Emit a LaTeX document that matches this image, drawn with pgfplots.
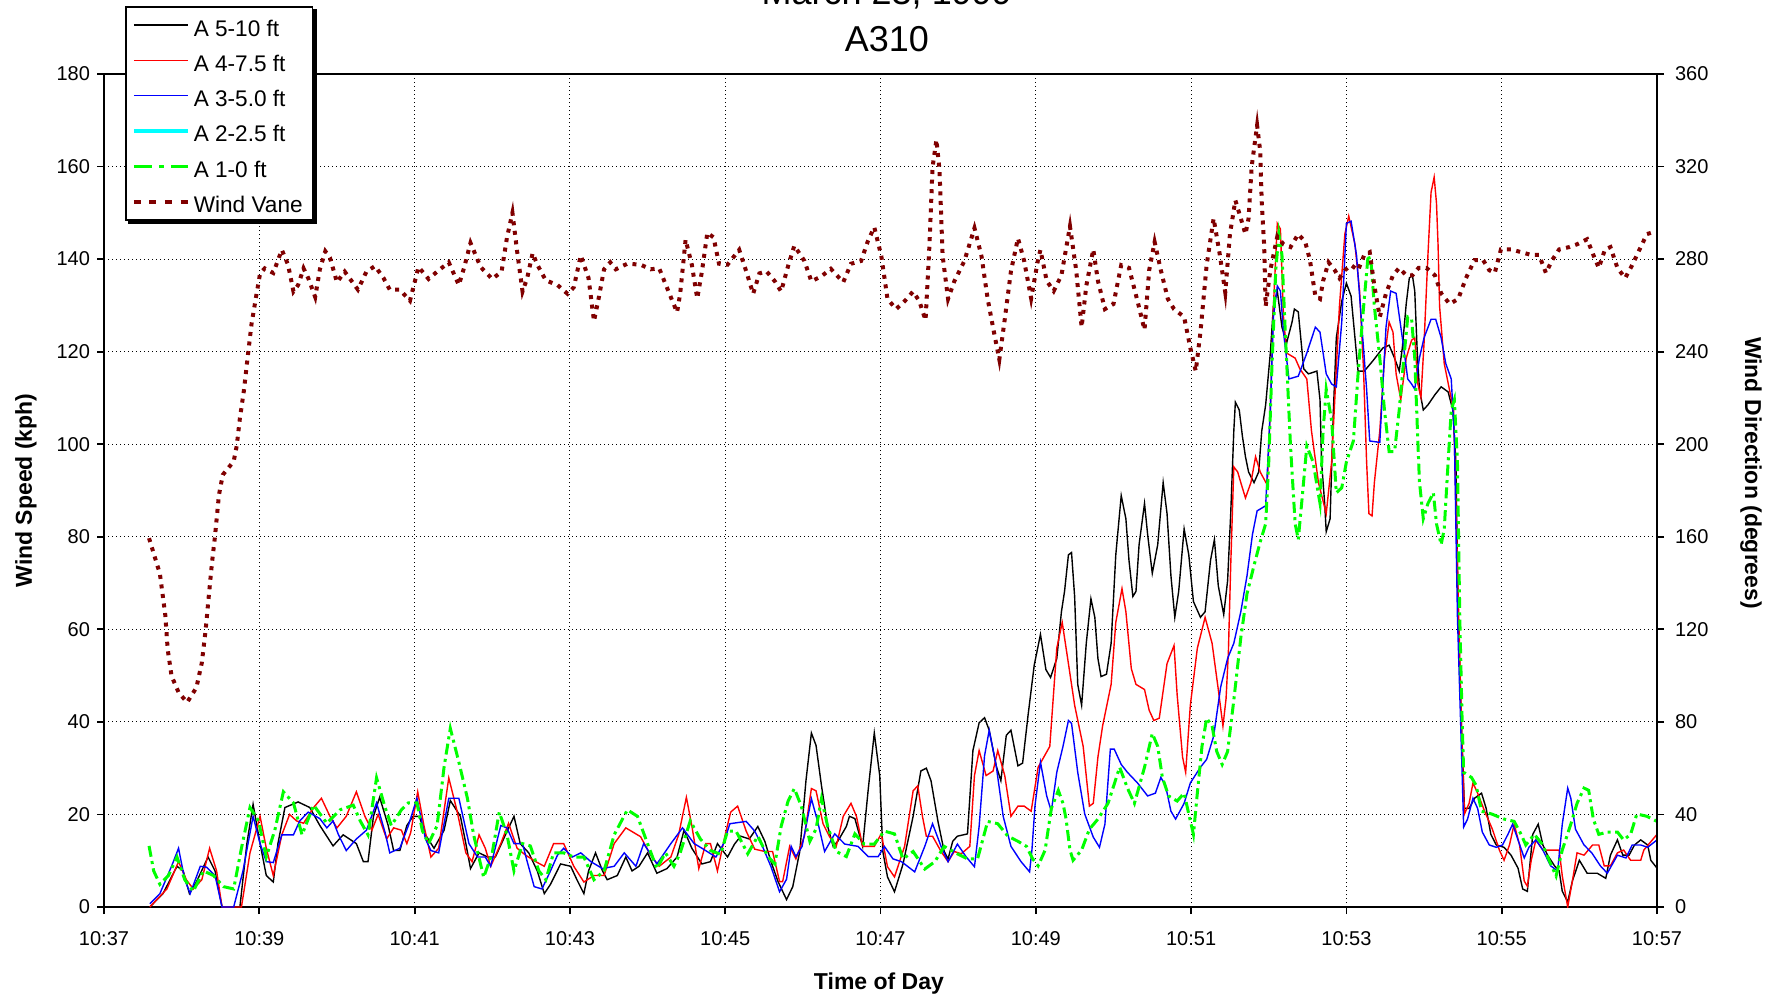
\documentclass[border=0pt]{standalone}
\usepackage{fontspec}
\setmainfont{Liberation Sans}
\usepackage{pgfplots}
\pgfplotsset{compat=1.18}
\definecolor{vane}{HTML}{800000}
\definecolor{lgreen}{HTML}{00FF00}
\definecolor{lcyan}{HTML}{00FFFF}
\begin{document}
\begin{tikzpicture}
\pgfplotsset{
  common/.style={
    scale only axis, width=776.5pt, height=416.5pt, at={(0pt,0pt)}, anchor=south west,
    xmin=0, xmax=20,
    tick align=outside, major tick length=3.5pt,
    tick style={black, line width=0.9pt},
    axis line style={line width=1.3pt},
    /pgf/number format/assume math mode=true,
    ticklabel style={font=\fontsize{10}{12}\selectfont},
  }
}
\begin{axis}[common,
  ymin=0, ymax=180, ytick={0,20,...,180}, ytick pos=left,
  xtick={0,2,4,6,8,10,12,14,16,18,20},
  xticklabels={10:37,10:39,10:41,10:43,10:45,10:47,10:49,10:51,10:53,10:55,10:57},
  xtick pos=bottom,
  xticklabel style={yshift=-5pt},
  grid=major, grid style={black, line width=0.5pt, dash pattern=on 0.6pt off 1.4pt},
  xlabel={Time of Day}, ylabel={Wind Speed (kph)},
  every axis x label/.style={at={(axis description cs:0.499,-0.099)}, anchor=base, font=\bfseries\fontsize{11.5}{14}\selectfont},
  every axis y label/.style={at={(axis description cs:-0.0502,0.5)}, rotate=90, anchor=center, font=\bfseries\fontsize{11.5}{14}\selectfont},
]
% A 5-10 ft
\addplot[black, line width=0.7pt] table {
t v
0.59 0
0.76 2.9
0.94 8.8
1.02 7.8
1.10 2.9
1.19 5.4
1.34 10.8
1.43 7.8
1.52 0
1.75 0
1.84 13.7
1.92 22.2
2.01 13.7
2.09 6.8
2.18 5.4
2.24 13.7
2.33 21.5
2.50 22.7
2.65 21.5
2.78 17.6
2.95 13.2
3.08 15.6
3.25 13.7
3.34 9.8
3.40 9.8
3.47 19.6
3.55 23.7
3.66 17.6
3.73 12.2
3.81 12.2
3.90 17.6
3.98 19.6
4.06 19.6
4.14 15.6
4.25 12.7
4.38 16.6
4.46 23
4.59 19.6
4.66 13.7
4.72 8.3
4.83 11.7
4.94 10.8
5.04 10.8
5.17 15.6
5.28 19.6
5.36 13.7
5.47 11.7
5.58 7.8
5.67 2.9
5.75 4.9
5.88 9.3
6.01 8.8
6.09 5.9
6.18 2.9
6.24 7.8
6.33 11.7
6.42 7.8
6.48 5.9
6.61 6.8
6.72 10.8
6.80 7.8
6.89 8.8
7.00 11.7
7.12 7.3
7.25 8.3
7.38 10.8
7.47 16.6
7.57 12.7
7.70 9.3
7.81 9.8
7.90 13.7
8.03 10.8
8.12 13.6
8.20 15.3
8.31 14.7
8.42 17.4
8.51 14.2
8.59 9.8
8.68 5.5
8.79 1.6
8.87 4.4
8.96 12
9.04 27.3
9.11 37.6
9.17 34.9
9.24 26.2
9.32 17.4
9.39 13.1
9.45 14.2
9.56 17.4
9.60 19.6
9.67 19.1
9.77 13.1
9.84 25.1
9.92 37.6
9.99 28.4
10.03 12
10.09 6.5
10.18 3.3
10.29 9.3
10.42 19.6
10.52 29.4
10.59 30
10.65 27.3
10.74 18.5
10.82 12
10.87 10.4
10.93 14.2
10.99 15.3
11.12 15.8
11.19 33.8
11.27 39.8
11.34 40.9
11.40 38.2
11.49 30.5
11.55 27.3
11.62 37.1
11.68 38.2
11.77 30.5
11.83 31.1
11.90 41.4
11.98 52.3
12.06 58.9
12.13 51.3
12.19 49.6
12.27 53.7
12.33 63.8
12.37 68.2
12.42 76.1
12.46 76.6
12.50 67.1
12.54 48.1
12.59 43.6
12.65 57
12.71 66.6
12.76 62.6
12.80 53.7
12.84 49.8
12.91 50.3
12.97 57
13.03 76.1
13.10 88.9
13.16 83.9
13.20 74.9
13.25 67.1
13.29 68.2
13.33 78.3
13.40 87.2
13.44 80.5
13.50 72.1
13.57 78.3
13.64 91.7
13.69 85
13.74 71.6
13.79 62.6
13.84 68.2
13.91 81.7
13.97 76.1
14.03 66
14.12 62.6
14.18 63.8
14.25 74.9
14.30 79.4
14.35 69.4
14.42 63.2
14.47 70.5
14.51 85
14.55 102.9
14.57 109.1
14.62 107.4
14.66 101.8
14.70 97.3
14.74 94
14.81 91.7
14.87 94
14.91 102.9
14.96 108.5
15.02 119.7
15.06 129.8
15.11 133.1
15.17 125.3
15.23 121.9
15.30 126.4
15.33 129.2
15.38 128.6
15.45 116.3
15.51 115.2
15.62 115.8
15.66 109.6
15.68 96.2
15.72 87.2
15.74 81.1
15.79 83.9
15.83 106.3
15.87 123
15.94 130.9
16.00 134.8
16.06 132
16.15 115.8
16.23 115.8
16.34 118
16.47 120.8
16.55 121.4
16.62 118.6
16.68 115.8
16.72 120.8
16.77 130.3
16.81 135.9
16.85 136.5
16.88 133.1
16.91 120.8
16.94 111.9
16.99 107.4
17.05 108.5
17.14 110.7
17.22 112.4
17.31 111.3
17.37 107.4
17.41 96.2
17.44 62.6
17.48 40.3
17.52 21.3
17.58 21.3
17.65 23.5
17.74 24.6
17.80 21.3
17.86 15.7
17.93 13.4
18.03 12.9
18.12 11.2
18.21 8.4
18.27 3.9
18.33 3.4
18.40 15.7
18.47 17.9
18.53 13.4
18.59 11.2
18.68 8.9
18.74 7.8
18.78 3.4
18.85 1.1
18.91 5.6
19.00 10.1
19.10 7.3
19.23 7.3
19.34 6.2
19.40 11.2
19.49 14.5
19.56 11.2
19.64 11.2
19.71 13.4
19.79 14.5
19.88 13.4
19.92 10.1
20.00 8.4
};
% A 4-7.5 ft
\addplot[red, line width=0.7pt] table {
t v
0.59 0
0.81 3.9
0.96 9.8
1.06 5.9
1.15 3.9
1.26 5.9
1.36 12.7
1.45 7.8
1.52 0
1.77 0
1.88 11.7
2.01 19.6
2.09 12.7
2.18 6.8
2.29 15.6
2.39 20
2.48 18.6
2.57 18.1
2.70 21.5
2.80 23.5
2.91 19.6
3.00 17.1
3.12 19.6
3.25 24.9
3.36 19.6
3.45 16.6
3.53 20
3.64 14.7
3.73 17.1
3.83 16.6
3.90 13.7
3.95 16.1
4.04 24.9
4.12 17.6
4.21 10.8
4.31 12.7
4.44 27.9
4.55 20.5
4.66 11.7
4.74 9.8
4.83 15.6
4.91 12.7
4.98 8.8
5.11 13.7
5.21 18.1
5.32 12.7
5.43 11.2
5.56 9.8
5.67 8.8
5.79 13.7
5.92 13.7
6.05 8.8
6.18 5.4
6.31 6.8
6.44 6.8
6.57 13.7
6.72 17.1
6.91 15.2
7.04 11.2
7.15 8.8
7.30 10.8
7.40 15.6
7.50 23.7
7.57 17.6
7.66 8.3
7.75 13.7
7.81 13.7
7.90 7.8
8.00 15.6
8.07 20.5
8.16 21.8
8.27 16.4
8.38 12.5
8.51 12
8.61 12
8.70 5.5
8.74 5.5
8.83 13.1
8.91 10.4
9.02 15.3
9.11 25.6
9.17 25.1
9.26 18
9.34 15.3
9.43 13.1
9.52 19.6
9.62 22.4
9.69 19.6
9.77 13.1
9.92 13.1
10.01 15.8
10.09 8.7
10.18 6.5
10.31 13.1
10.42 25.1
10.48 26.2
10.54 19.6
10.59 15.3
10.67 15.3
10.78 12
10.87 9.8
10.95 12
11.04 11.5
11.15 13.1
11.21 28.4
11.27 33.8
11.36 28.4
11.45 29.4
11.51 33.8
11.60 28.4
11.68 19.6
11.77 21.8
11.85 21.8
11.94 20.7
12.03 30.2
12.18 34.7
12.27 55.9
12.34 61.5
12.42 52.6
12.50 43.6
12.61 34.7
12.69 21.8
12.74 22.4
12.80 32.4
12.86 39.1
12.97 48.1
13.03 61.5
13.11 68.8
13.16 63.8
13.23 51.5
13.29 48.1
13.40 47
13.46 42.5
13.52 40.3
13.59 40.8
13.69 52.6
13.78 56.5
13.82 45.9
13.89 32.4
13.93 29.1
13.99 43.6
14.08 55.9
14.18 62.6
14.27 57
14.35 47
14.41 39.1
14.45 45
14.48 55
14.51 73.8
14.55 95.1
14.60 94
14.64 91.7
14.70 88.4
14.77 91.7
14.83 97.3
14.89 94
14.98 91.2
15.02 107.4
15.06 129.8
15.11 147.7
15.15 146.5
15.19 127.5
15.23 119.7
15.34 118.6
15.40 116.3
15.49 114.1
15.55 102.9
15.64 91.7
15.74 85
15.81 96.2
15.85 109.6
15.91 129.8
15.98 145.4
16.03 149.3
16.11 143.2
16.17 133.1
16.22 116.3
16.26 96.2
16.29 85
16.33 84.5
16.36 91.7
16.43 102.9
16.49 118.6
16.55 126.4
16.60 124.2
16.64 115.2
16.70 109.6
16.77 118.6
16.84 122.5
16.88 123
16.92 113
16.96 110.2
17.00 121.9
17.05 140.9
17.09 154.4
17.13 157.7
17.16 152.1
17.18 143.2
17.20 129.8
17.26 117.4
17.34 110.7
17.38 107.4
17.43 73.8
17.48 40.3
17.52 20.1
17.58 22.4
17.63 26.8
17.69 24.6
17.78 20.7
17.88 16.8
17.97 12.3
18.03 10.1
18.10 13.4
18.16 17.9
18.23 13.4
18.29 5.6
18.33 4.5
18.38 10.1
18.44 14.5
18.53 12.3
18.63 12.3
18.74 12.3
18.78 6.7
18.85 0
18.91 5.6
18.97 11.7
19.06 11.2
19.17 13.4
19.25 13.4
19.32 8.9
19.40 8.9
19.49 11.7
19.57 12.3
19.66 10.1
19.79 10.1
19.83 12.3
20.00 15.7
};
% A 3-5.0 ft
\addplot[blue, line width=0.7pt] table {
t v
0.59 0.7
0.72 2.9
0.87 8.8
0.96 12.7
1.04 5.9
1.11 2.9
1.24 8.8
1.32 8.6
1.43 6.8
1.52 0
1.67 0
1.79 7.8
1.92 19.6
2.01 13.7
2.09 9.8
2.18 9.6
2.29 15.6
2.44 15.6
2.52 18.6
2.63 20.5
2.78 19.1
2.87 17.1
2.95 18.6
3.02 15.6
3.12 12.2
3.25 14.7
3.38 16.6
3.51 22.5
3.62 16.1
3.68 11.7
3.81 12.7
3.92 17.6
4.03 23.5
4.14 14.7
4.21 12.2
4.31 11.7
4.44 23.5
4.57 23.5
4.70 13.7
4.81 10.8
4.91 10.8
4.98 8.8
5.11 17.6
5.19 17.1
5.28 13.7
5.39 13.7
5.45 9.8
5.54 4.4
5.64 3.9
5.75 7.8
5.84 11.2
5.92 12.7
6.03 10.8
6.14 11.7
6.27 9.8
6.42 8.3
6.57 8.8
6.70 11.7
6.85 8.8
6.95 13.7
7.12 9.3
7.30 13.7
7.45 17.1
7.60 13.7
7.70 12.7
7.88 10.8
7.98 13.7
8.06 18
8.27 18.5
8.38 16.4
8.48 13.1
8.59 8.7
8.70 3.3
8.79 6
8.85 13.1
8.91 10.9
8.99 13.1
9.11 23.4
9.19 18.5
9.28 12
9.41 15.8
9.54 13.6
9.71 13.1
9.84 10.9
9.97 10.9
10.05 13.1
10.16 10.4
10.27 9.8
10.44 7.6
10.57 13.1
10.67 18
10.78 13.1
10.87 9.8
10.99 13.6
11.10 10.9
11.21 8.7
11.27 17.4
11.34 32.7
11.40 38.2
11.49 30.5
11.58 19.6
11.68 13.1
11.81 9.8
11.92 7.6
11.95 12.3
11.99 22
12.06 31.3
12.14 24
12.20 20.7
12.27 29.1
12.35 34.7
12.42 40.3
12.46 39.7
12.54 29.1
12.63 20.1
12.74 15.1
12.82 12.9
12.89 17.9
12.96 34.1
13.01 34.1
13.10 30.8
13.18 29.1
13.31 26.8
13.44 24
13.54 24.6
13.61 28
13.67 26.3
13.74 20.7
13.80 19
13.91 22.4
13.99 26.8
14.12 30.2
14.20 31.9
14.29 36.9
14.38 47.5
14.47 53.7
14.55 57
14.64 63.8
14.72 71.6
14.79 80.5
14.85 85.6
14.96 86.7
15.02 107.4
15.06 127.5
15.11 134.2
15.15 133.1
15.19 124.2
15.26 114.1
15.38 114.7
15.49 119.7
15.60 125.3
15.66 124.2
15.74 115.2
15.81 113
15.87 112.4
15.94 126.4
16.00 147.7
16.06 148.2
16.13 140.9
16.19 127.5
16.26 111.9
16.30 100.7
16.43 100.4
16.47 113
16.51 125.3
16.57 133.1
16.64 132.6
16.72 123
16.79 114.1
16.84 113
16.88 111.9
16.94 118.6
17.00 123
17.09 127
17.15 127
17.22 123
17.28 117.4
17.35 114.1
17.39 101.8
17.43 62.6
17.48 34.7
17.51 17.3
17.56 19
17.63 23.5
17.69 21.3
17.75 16.2
17.84 13.4
17.93 12.9
18.01 13.4
18.08 15.7
18.14 17.9
18.21 14.5
18.29 10.6
18.35 12.9
18.44 14.5
18.53 12.3
18.63 8.9
18.72 7.8
18.78 17.9
18.85 25.7
18.89 23.5
18.95 16.8
19.06 13.4
19.16 11.7
19.27 8.9
19.36 7.3
19.49 11.2
19.60 10.6
19.68 13.4
19.79 13.4
19.88 12.9
20.00 14.5
};
% A 1-0 ft
\addplot[lgreen, line width=1.5pt, dash pattern=on 5.5pt off 2.2pt on 1.5pt off 2.2pt] table {
t v
0.58 13.2
0.64 7.8
0.72 4.9
0.83 6.8
0.94 10.8
1.04 5.9
1.15 3.4
1.28 7.8
1.41 6.8
1.54 4.4
1.67 3.9
1.77 12.7
1.88 21.5
1.99 18.6
2.09 10.8
2.20 16.6
2.31 24.9
2.44 22.5
2.55 15.6
2.70 22
2.87 18.1
3.04 21
3.21 22
3.30 18.6
3.40 15.6
3.51 27.9
3.62 21.5
3.70 17.6
3.83 21
3.92 22.5
4.03 22.5
4.10 16.5
4.18 13.7
4.29 17.6
4.38 30.3
4.46 38.6
4.57 31.3
4.68 23.5
4.76 15.6
4.89 6.4
5.00 11.7
5.09 20.5
5.19 15.6
5.28 7.8
5.39 13.7
5.49 13.2
5.60 7.8
5.69 5.9
5.79 11.7
5.92 11.7
6.05 10.8
6.18 10.8
6.31 5.9
6.44 7.8
6.57 15.6
6.74 21
6.87 19.6
7.00 13.7
7.12 8.3
7.23 11.7
7.34 8.8
7.42 11.7
7.55 18.6
7.68 14.7
7.81 12.2
7.94 11.4
8.03 16.4
8.14 16.4
8.29 11.5
8.42 15.3
8.55 10.9
8.64 9.3
8.72 17.4
8.81 22.9
8.89 25.6
8.98 21.8
9.09 14.2
9.17 16.9
9.24 23.4
9.32 17.4
9.43 12
9.56 10.9
9.67 15.8
9.79 13.6
9.92 13.6
10.05 16.4
10.18 15.8
10.29 10.4
10.42 12
10.57 8.2
10.70 9.8
10.82 13.1
10.99 11.5
11.12 10.4
11.25 10.4
11.38 18.5
11.51 18
11.64 15.3
11.77 14.2
11.88 13.1
11.96 10.4
12.03 8.9
12.12 12.3
12.20 21.3
12.29 25.2
12.35 22.4
12.39 19
12.44 12.3
12.48 10.1
12.59 12.3
12.69 16.8
12.80 19
12.93 22.4
13.08 30.2
13.18 25.7
13.27 22.4
13.40 30.2
13.50 37.5
13.57 34.7
13.63 28
13.71 24
13.82 22.9
13.91 24.6
13.97 20.1
14.03 15.7
14.08 24.6
14.14 34.7
14.20 40.8
14.27 39.1
14.33 33.6
14.40 30.8
14.47 33.6
14.55 44.7
14.64 58.2
14.72 67.7
14.81 73.8
14.89 78.9
14.96 82.8
15.00 96.2
15.04 116.3
15.09 137.6
15.13 145.4
15.17 140.9
15.21 125.3
15.28 99.6
15.34 82.8
15.38 79.4
15.43 88.4
15.49 99.6
15.57 96.2
15.66 87.2
15.70 102.9
15.74 111.9
15.81 105.1
15.87 89.5
15.94 90.6
16.00 96.2
16.09 100.7
16.15 115.2
16.21 127.5
16.28 140.9
16.32 138.7
16.36 129.8
16.43 118.6
16.49 107.4
16.55 98.4
16.62 98.4
16.68 107.4
16.74 118.6
16.79 127.5
16.84 127
16.88 118.6
16.91 105.1
16.94 92
16.99 83.9
17.05 87.2
17.12 89.5
17.16 82.8
17.22 78.3
17.26 81.7
17.31 96.2
17.35 107.4
17.39 109.6
17.43 96.2
17.46 62.6
17.49 40.3
17.51 29.1
17.61 28
17.67 26.3
17.74 20.7
17.87 20.1
18.03 19
18.16 18.5
18.25 15.7
18.31 13.4
18.42 15.7
18.53 13.4
18.61 10.1
18.70 6.7
18.78 12.3
18.89 17.9
18.97 22.4
19.06 25.7
19.12 25.2
19.18 19
19.25 15.7
19.36 16.2
19.49 16.2
19.57 14.5
19.66 15.7
19.74 20.1
19.87 19.6
20.00 18.5
};
\end{axis}
\begin{axis}[common,
  ymin=0, ymax=360, ytick={0,40,...,360},
  axis y line*=right, axis x line=none,
  yticklabel style={xshift=2pt},
  ylabel={Wind Direction (degrees)},
  every axis y label/.style={at={(axis description cs:1.0605,0.521)}, rotate=-90, anchor=center, font=\bfseries\fontsize{11.5}{14}\selectfont},
  legend cell align=left,
  legend image code/.code={\draw[#1] (0pt,0pt) -- (27pt,0pt);},
  legend style={name=lgd, at={(0.0135,1.0816)}, anchor=north west, draw=black, line width=0.8pt, fill=white,
    font=\fontsize{11.3}{13}\selectfont,
    inner xsep=3pt, inner ysep=3.1pt, row sep=5.65pt, column sep=0pt,
    nodes={inner xsep=2pt, inner ysep=0pt, text height=11.5pt, text depth=0.5pt}},
]
% Wind Vane (degrees)
\addplot[vane, line width=2pt, dash pattern=on 2pt off 2.8pt, forget plot] table {
t d
0.58 159.4
0.72 144
0.79 126
0.82 111.4
0.87 99.8
0.96 92.8
1.07 88.4
1.19 94.8
1.26 105.6
1.31 120
1.34 131
1.39 148.6
1.43 160.4
1.48 178
1.53 186.8
1.67 192.6
1.71 199.4
1.75 211.2
1.80 222.8
1.84 234.6
1.90 252
1.96 264
2.01 273.8
2.07 276
2.18 274
2.29 284
2.37 277.6
2.44 266
2.50 268.8
2.57 276
2.63 271.8
2.72 263.6
2.78 275.6
2.85 283.4
2.91 280.6
3.00 270
3.10 274.6
3.27 266.8
3.38 274.6
3.49 277
3.60 271.8
3.68 266.8
3.81 266.8
3.94 262
4.05 276.6
4.18 271.4
4.29 274.6
4.44 278.6
4.57 268.8
4.64 276.6
4.72 287
4.85 276.6
5.00 271.4
5.12 274.6
5.19 289.4
5.26 300
5.32 283.4
5.39 266
5.45 271.8
5.52 282.6
5.58 277.6
5.69 270.8
5.84 268.8
5.97 265
6.05 267.8
6.14 281.6
6.24 271.8
6.31 253.2
6.37 263
6.44 275.6
6.52 278.6
6.59 275.6
6.74 278
6.91 277.6
7.04 275.6
7.15 276
7.27 266
7.38 257
7.42 265
7.49 288.4
7.57 277.6
7.64 263
7.70 274.6
7.77 291.4
7.85 289.4
7.92 278
8.03 277.6
8.18 284
8.27 274.8
8.36 265
8.44 273.8
8.53 274.8
8.64 270.4
8.72 266
8.81 277
8.89 285.8
9.02 279.2
9.11 270.4
9.24 272.6
9.36 275.8
9.52 270
9.62 278
9.75 279.2
9.84 288
9.92 293.8
10.01 281.4
10.09 262.8
10.20 258.4
10.31 261.8
10.42 266
10.50 261.8
10.58 253.6
10.63 285.8
10.67 319.6
10.72 331.6
10.76 318.4
10.80 281.4
10.87 262.8
10.95 270.4
11.08 279.2
11.21 293.4
11.30 281.4
11.38 262.8
11.46 248.6
11.53 236.6
11.60 254
11.68 274.8
11.77 289
11.85 279.2
11.94 263
12.03 280
12.06 284
12.14 270.6
12.23 266.2
12.33 273
12.44 294.2
12.52 275.2
12.59 250.6
12.65 268.4
12.74 284.2
12.80 270.6
12.89 258.4
13.00 260.6
13.10 277.4
13.20 276.2
13.31 261.8
13.40 249.4
13.46 275.2
13.53 287.4
13.61 275.2
13.70 262.8
13.78 258.4
13.91 255
13.99 241.6
14.06 231.6
14.12 248.4
14.20 277.4
14.29 297.6
14.37 281.8
14.44 265.6
14.50 290.8
14.57 305.4
14.64 297.6
14.70 290.8
14.74 297.6
14.78 320
14.85 337.8
14.89 326.6
14.91 304.2
14.94 286.4
14.96 259.6
15.02 275.2
15.11 289.8
15.19 286.4
15.28 285.2
15.38 290.8
15.47 287.4
15.53 279.6
15.60 264
15.66 262.8
15.70 270.6
15.77 278.6
15.85 275.2
15.91 271.8
15.98 275.2
16.06 277.4
16.15 275.2
16.23 281.8
16.30 283
16.36 268.4
16.43 255
16.51 265.2
16.60 273
16.68 276.2
16.77 273
16.85 273
16.93 276.2
17.03 276.2
17.14 273
17.22 265.2
17.33 260.6
17.44 262.8
17.54 271.8
17.65 279.6
17.76 279.6
17.84 275.2
17.91 274
17.99 284.2
18.12 284.2
18.25 283
18.38 281.8
18.48 281.8
18.57 274
18.65 279.6
18.74 284.2
18.87 285.2
18.97 286.4
19.10 288.6
19.18 281.8
19.25 276.2
19.33 284.2
19.40 285.2
19.49 276.2
19.59 271.8
19.68 277.4
19.79 285.2
19.87 290.8
19.98 292
};
\addlegendimage{black, line width=0.7pt}
\addlegendimage{red, line width=0.7pt}
\addlegendimage{blue, line width=0.7pt}
\addlegendimage{lcyan, line width=2pt}
\addlegendimage{lgreen, line width=1.5pt, dash pattern=on 9pt off 3.5pt on 2.5pt off 3.5pt}
\addlegendimage{vane, line width=2pt, dash pattern=on 3.5pt off 4.3pt}
\legend{A 5-10 ft, A 4-7.5 ft, A 3-5.0 ft, A 2-2.5 ft, A 1-0 ft, Wind Vane}
\end{axis}
\fill[black] ([xshift=1.7pt]lgd.south west) rectangle ([xshift=1.7pt,yshift=-1.7pt]lgd.south east);
\fill[black] ([yshift=-1.7pt]lgd.north east) rectangle ([xshift=1.7pt]lgd.south east);
\node[font=\fontsize{18}{22}\selectfont, anchor=base] at (391.4pt,427.5pt) {A310};
\node[font=\fontsize{18}{22}\selectfont, anchor=base] at (391.4pt,451pt) {March 23, 1999};
\pgfresetboundingbox
\useasboundingbox (-52pt,-44.5pt) rectangle (836pt,453.5pt);
\end{tikzpicture}
\end{document}
